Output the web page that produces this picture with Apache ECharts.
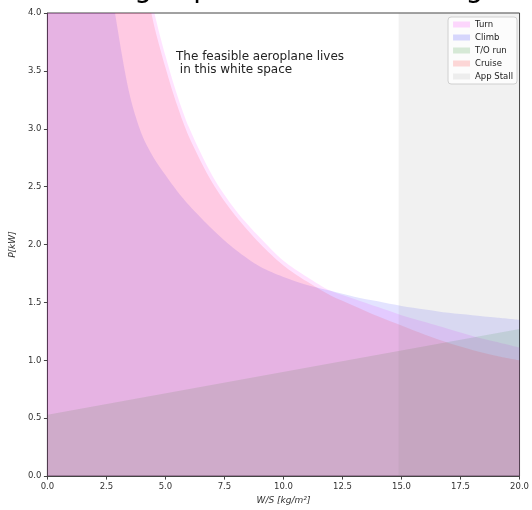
<!DOCTYPE html>
<html><head><meta charset="utf-8">
<script src="https://cdn.jsdelivr.net/npm/echarts@6/dist/echarts.min.js"></script>
<style>html,body{margin:0;padding:0;background:#fff}#c{width:532px;height:510px}</style>
</head><body><div id="c"></div>
<script>
// W/S sample points [kg/m^2]
const wsGrid  = [0, 1, 2, 2.5, 3, 3.5, 4, 4.5, 5, 5.5, 6, 7, 8, 9, 10, 11, 12, 13, 14, 15, 16, 17, 18, 19, 20];
// required power [kW] for each constraint
const turnP   = [20, 14.5, 8.5, 7.0, 6.2, 5.3, 4.56, 4.03, 3.63, 3.29, 3.01, 2.59, 2.29, 2.06, 1.86, 1.72, 1.60, 1.53, 1.46, 1.39, 1.33, 1.27, 1.21, 1.16, 1.11];
const climbP  = [20, 10, 6, 4.53, 3.83, 3.28, 2.95, 2.75, 2.60, 2.46, 2.34, 2.13, 1.95, 1.81, 1.72, 1.65, 1.60, 1.55, 1.51, 1.47, 1.44, 1.41, 1.39, 1.37, 1.35];
const cruiseP = [20, 14, 8, 6.7, 5.9, 5.1, 4.42, 3.91, 3.53, 3.20, 2.93, 2.53, 2.24, 2.01, 1.82, 1.68, 1.56, 1.47, 1.38, 1.30, 1.22, 1.15, 1.09, 1.04, 1.00];
const toRunWS = [0, 20];
const toRunP  = [0.53, 1.27];
const stallWS = [14.88, 20];
const stallP  = [4, 4];
const seriesNames = ['Turn', 'Climb', 'T/O run', 'Cruise', 'App Stall'];
const xMin = 0, xMax = 20, xStep = 2.5;
const yMin = 0, yMax = 4, yStep = 0.5;
const titleText = 'Design space for initial sizing';
const noteText = 'The feasible aeroplane lives\n in this white space';

const A = 0.11;
const fills = {
  'Turn': 'rgba(255,0,255,' + A + ')',
  'Climb': 'rgba(0,0,255,' + A + ')',
  'T/O run': 'rgba(0,128,0,' + A + ')',
  'Cruise': 'rgba(255,0,0,' + A + ')',
  'App Stall': 'rgba(128,128,128,' + A + ')'
};
const legendFills = {
  'Turn': 'rgba(255,0,255,0.15)',
  'Climb': 'rgba(0,0,255,0.15)',
  'T/O run': 'rgba(0,128,0,0.15)',
  'Cruise': 'rgba(255,0,0,0.15)',
  'App Stall': 'rgba(128,128,128,0.12)'
};
const zip = (xs, ys) => xs.map((x, i) => [x, ys[i]]);
const dataMap = {
  'Turn': zip(wsGrid, turnP),
  'Climb': zip(wsGrid, climbP),
  'T/O run': zip(toRunWS, toRunP),
  'Cruise': zip(wsGrid, cruiseP),
  'App Stall': zip(stallWS, stallP)
};
const curved = {'Turn': true, 'Climb': true, 'Cruise': true};

const FONT = 'DejaVu Sans';
const chart = echarts.init(document.getElementById('c'), null, {renderer: 'canvas'});
chart.setOption({
  animation: false,
  backgroundColor: '#fff',
  textStyle: {fontFamily: FONT},
  grid: {left: 43, right: 10, top: 13, bottom: 30, show: true, borderColor: '#444', borderWidth: 1, backgroundColor: 'transparent'},
  xAxis: {
    type: 'value', min: xMin, max: xMax, interval: xStep,
    name: 'W/S [kg/m²]', nameLocation: 'middle', nameGap: 18,
    nameTextStyle: {fontFamily: FONT, fontSize: 9, fontStyle: 'italic', color: '#333'},
    axisLine: {show: true, onZero: false, lineStyle: {color: '#444', width: 1}},
    axisTick: {show: true, length: 3.5, lineStyle: {color: '#444'}},
    axisLabel: {fontFamily: FONT, fontSize: 8.5, color: '#333', margin: 6, formatter: v => v.toFixed(1)},
    splitLine: {show: false}
  },
  yAxis: {
    type: 'value', min: yMin, max: yMax, interval: yStep,
    name: 'P[kW]', nameLocation: 'middle', nameGap: 28, nameRotate: 90,
    nameTextStyle: {fontFamily: FONT, fontSize: 9, fontStyle: 'italic', color: '#333'},
    axisLine: {show: true, onZero: false, lineStyle: {color: '#444', width: 1}},
    axisTick: {show: true, length: 3.5, lineStyle: {color: '#444'}},
    axisLabel: {fontFamily: FONT, fontSize: 8.5, color: '#333', margin: 6, formatter: v => v.toFixed(1)},
    splitLine: {show: false}
  },
  legend: {
    orient: 'vertical', right: 15, top: 17,
    itemWidth: 17, itemHeight: 6, itemGap: 4,
    padding: [3, 4, 3, 5],
    backgroundColor: 'rgba(255,255,255,0.8)', borderColor: '#d0d0d0', borderWidth: 1, borderRadius: 3,
    textStyle: {fontFamily: FONT, fontSize: 8.5, color: '#222'},
    data: seriesNames.map(n => ({name: n, icon: 'rect', itemStyle: {color: legendFills[n], borderWidth: 0}}))
  },
  graphic: [
    {type: 'text', x: 73, y: -10, silent: true,
     style: {text: titleText, fontFamily: FONT, fontSize: 28, fill: '#000', verticalAlign: 'middle'}},
    {type: 'text', left: 176, top: 50, silent: true,
     style: {text: noteText, fontFamily: FONT, fontSize: 12, lineHeight: 13.5, fill: '#222'}}
  ],
  series: seriesNames.map(n => ({
    name: n, type: 'line', data: dataMap[n],
    showSymbol: false, symbol: 'none', clip: true,
    smooth: curved[n] ? 0.3 : false,
    lineStyle: {width: 0, opacity: 0},
    itemStyle: {color: fills[n]},
    areaStyle: {color: fills[n], opacity: 1},
    emphasis: {disabled: true}
  }))
});
</script></body></html>
